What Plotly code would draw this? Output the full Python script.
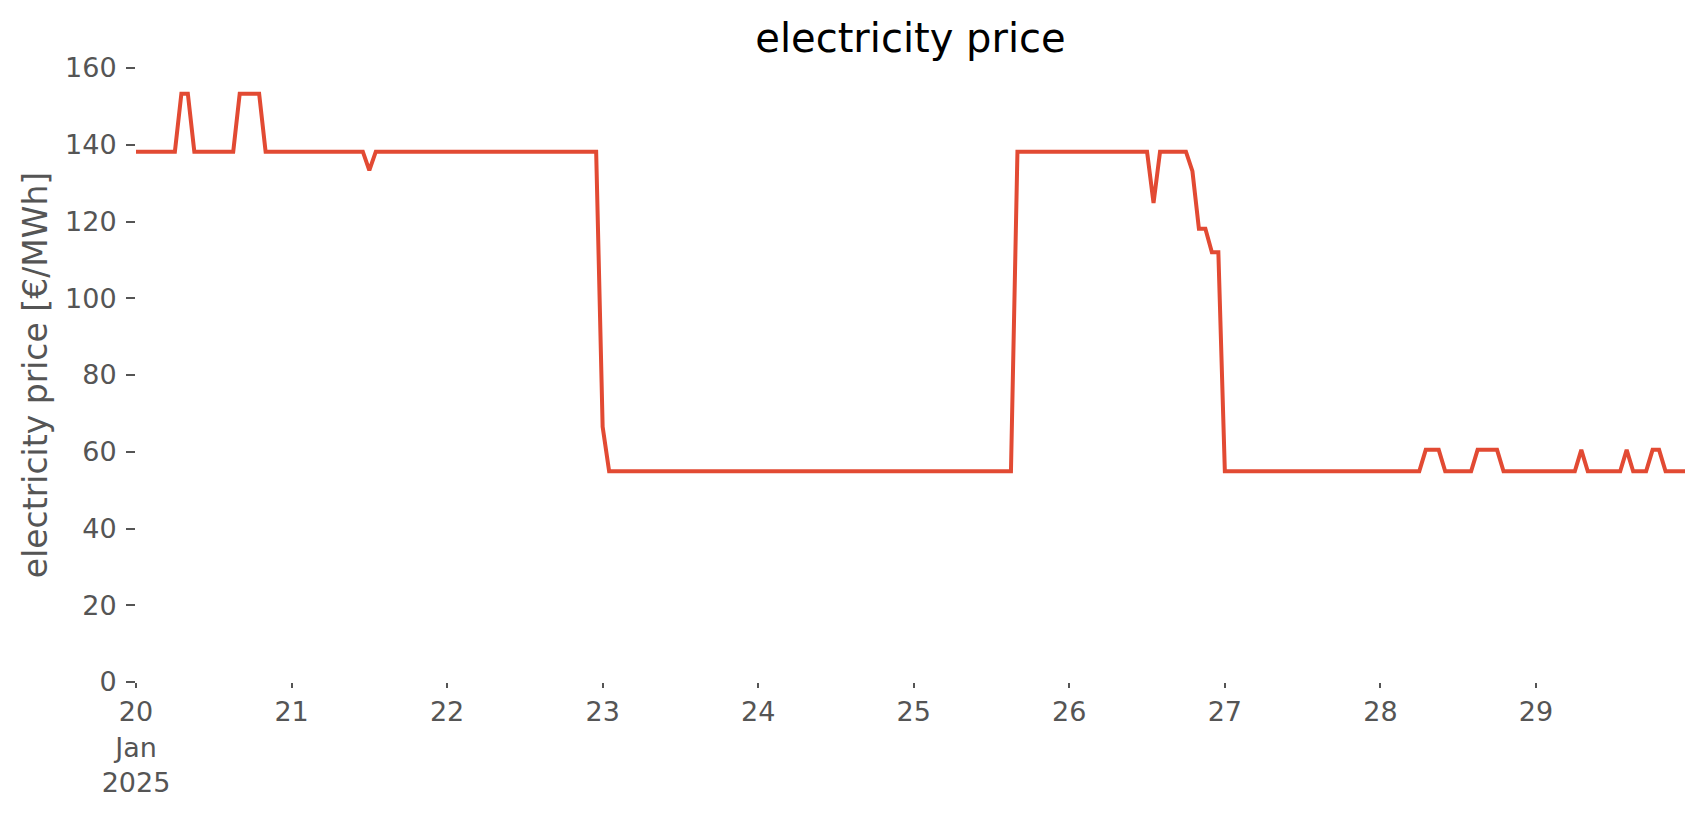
import pandas as pd
import plotly.graph_objects as go

# hourly electricity price [EUR/MWh], one row per day, Jan 20 .. Jan 29 2025
day20 = [138.2]*7 + [153.3]*2 + [138.2]*7 + [153.3]*4 + [138.2]*4
day21 = [138.2]*12 + [133.3] + [138.2]*11
day22 = [138.2]*24
day23 = [66.5] + [54.9]*23
day24 = [54.9]*24
day25 = [54.9]*16 + [138.2]*8
day26 = [138.2]*13 + [124.8] + [138.2]*5 + [133.1, 118.1, 118.1, 112.0, 112.0]
day27 = [54.9]*24
day28 = [54.9]*7 + [60.5]*3 + [54.9]*5 + [60.5]*4 + [54.9]*5
day29 = [54.9]*7 + [60.5] + [54.9]*6 + [60.5] + [54.9]*3 + [60.5]*2 + [54.9]*4

price = day20 + day21 + day22 + day23 + day24 + day25 + day26 + day27 + day28 + day29
times = pd.date_range("2025-01-20 00:00", periods=len(price), freq="h")

day_ticks = pd.date_range("2025-01-20", "2025-01-29", freq="D")
day_labels = ["20<br>Jan<br>2025", "21", "22", "23", "24", "25", "26", "27", "28", "29"]
y_ticks = [0, 20, 40, 60, 80, 100, 120, 140, 160]

FONT = "DejaVu Sans"
GREY = "#555555"

# the page body has an 8px margin, so the figure is sized to fit the window
W, H = 1690, 799

fig = go.Figure()
fig.add_trace(go.Scatter(x=times, y=price, mode="lines",
                         line=dict(color="#E24A33", width=4),
                         showlegend=False))

xr = [times[0], times[-1]]
fig.update_layout(
    width=W, height=H,
    margin=dict(l=128, r=13, t=60, b=125, autoexpand=False),
    paper_bgcolor="white", plot_bgcolor="white",
    font=dict(family=FONT, color=GREY),
    title=dict(text="electricity price", font=dict(family=FONT, size=40, color="black"),
               x=0.5, xref="paper", xanchor="center",
               y=1 - 30/H, yref="container", yanchor="middle"),
    xaxis=dict(range=xr, tickvals=day_ticks, ticktext=day_labels,
               ticks="outside", ticklen=5, tickwidth=1.5, tickcolor=GREY,
               tickfont=dict(family=FONT, size=27, color=GREY),
               ticklabelstandoff=1,
               showgrid=False, zeroline=False, showline=False),
    xaxis2=dict(range=xr, overlaying="x", anchor="y", side="bottom",
                tickvals=[times[0], times[-1]], ticktext=["", ""],
                ticks="outside", ticklen=10, tickwidth=1.5, tickcolor=GREY,
                showgrid=False, zeroline=False, showline=False),
    yaxis=dict(range=[0, 160], tickvals=y_ticks,
               ticks="outside", ticklen=9, tickwidth=1.5, tickcolor=GREY,
               tickfont=dict(family=FONT, size=27, color=GREY),
               ticklabelstandoff=4,
               title=dict(text="electricity price [€/MWh]",
                          font=dict(family=FONT, size=33, color=GREY), standoff=7),
               showgrid=False, zeroline=False, showline=False),
)
fig.write_html("out.html")
